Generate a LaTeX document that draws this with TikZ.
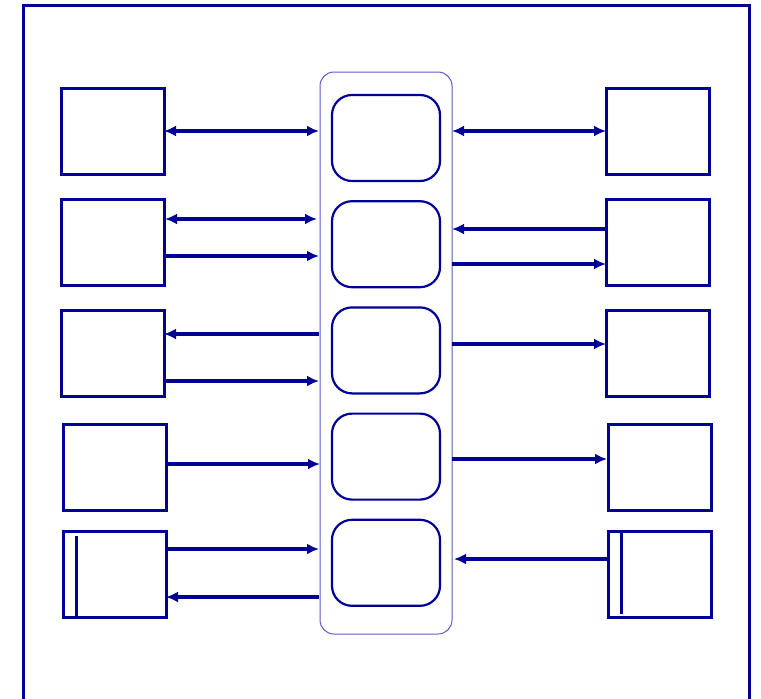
\documentclass[tikz,border=0pt]{standalone}
\usepackage{tikz}
\usetikzlibrary{arrows.meta, positioning}
\definecolor{linknavy}{RGB}{0,0,150}
\definecolor{rackblue}{RGB}{90,90,200}

\begin{document}
\begin{tikzpicture}[
    x=1pt, y=-1pt,
    node distance=18pt,
    unit/.style={draw=linknavy, line width=3pt, minimum width=103pt,
                 minimum height=86pt, inner sep=0pt, outer sep=0pt},
    hub/.style={draw=linknavy, line width=2.2pt, rounded corners=20pt,
                minimum width=108pt, minimum height=86pt, inner sep=0pt},
    rack/.style={draw=rackblue, line width=1pt, rounded corners=14pt,
                 minimum width=132pt, minimum height=562pt, inner sep=0pt,
                 outer sep=0pt},
    link/.style={draw=linknavy, line width=3.2pt,
                 -{Latex[length=12pt,width=11pt]}},
    duplex/.style={link, {Latex[length=12pt,width=11pt]}-{Latex[length=12pt,width=11pt]}},
]

% ── Frame ──────────────────────────────────────────────────────────────
\clip (0,0) rectangle (761,699);
\draw[linknavy, line width=3pt] (23,5) rectangle (749,740);

% ── Centre: rack with five hubs ────────────────────────────────────────
\node[rack] (rack) at (386,353) {};
\node[hub]  (hub1) at (386,138) {};
\node[hub, below=of hub1] (hub2) {};
\node[hub, below=of hub2] (hub3) {};
\node[hub, below=of hub3] (hub4) {};
\node[hub, below=of hub4] (hub5) {};

% ── Left column ────────────────────────────────────────────────────────
\node[unit] (l1) at (112.5,131)   {};
\node[unit] (l2) at (112.5,242.5) {};
\node[unit] (l3) at (112.5,353.5) {};
\node[unit] (l4) at (114.5,467)   {};
\node[unit] (l5) at (114.5,574.5) {};
\draw[linknavy, line width=3pt]
      ([xshift=13pt,yshift=-4pt]l5.north west) -- ([xshift=13pt]l5.south west);

% ── Right column ───────────────────────────────────────────────────────
\node[unit] (r1) at (657.5,131)   {};
\node[unit] (r2) at (657.5,242.5) {};
\node[unit] (r3) at (657.5,353.5) {};
\node[unit] (r4) at (659.5,467)   {};
\node[unit] (r5) at (659.5,574.5) {};
\draw[linknavy, line width=3pt]
      ([xshift=13pt]r5.north west) -- ([xshift=13pt,yshift=4pt]r5.south west);

% ── Links, left side ───────────────────────────────────────────────────
\draw[duplex] (l1.east) -- ([xshift=-1pt]l1.east -| rack.west);
\draw[duplex] ([xshift=1pt,yshift=23.5pt]l2.east)
      -- ([xshift=-3pt,yshift=23.5pt]l2.east -| rack.west);
\draw[link]   ([yshift=-13.5pt]l2.east)
      -- ([xshift=-1pt,yshift=-13.5pt]l2.east -| rack.west);
\draw[link]   ([xshift=-1pt,yshift=19.5pt]l3.east -| rack.west)
      -- ([yshift=19.5pt]l3.east);
\draw[link]   ([yshift=-27.5pt]l3.east)
      -- ([xshift=-1pt,yshift=-27.5pt]l3.east -| rack.west);
\draw[link]   ([yshift=3pt]l4.east) -- ([yshift=3pt]l4.east -| rack.west);
\draw[link]   ([yshift=25.5pt]l5.east)
      -- ([xshift=-1pt,yshift=25.5pt]l5.east -| rack.west);
\draw[link]   ([xshift=-1pt,yshift=-22.5pt]l5.east -| rack.west)
      -- ([yshift=-22.5pt]l5.east);

% ── Links, right side ──────────────────────────────────────────────────
\draw[duplex] (r1.west -| rack.east) -- (r1.west);
\draw[link]   ([yshift=13.5pt]r2.west) -- ([yshift=13.5pt]r2.west -| rack.east);
\draw[link]   ([yshift=-21.5pt]r2.west -| rack.east) -- ([yshift=-21.5pt]r2.west);
\draw[link]   ([yshift=9.5pt]r3.west -| rack.east) -- ([yshift=9.5pt]r3.west);
\draw[link]   ([yshift=8pt]r4.west -| rack.east) -- ([xshift=-1pt,yshift=8pt]r4.west);
\draw[link]   ([yshift=15.5pt]r5.west)
      -- ([xshift=2pt,yshift=15.5pt]r5.west -| rack.east);

\end{tikzpicture}
\end{document}
